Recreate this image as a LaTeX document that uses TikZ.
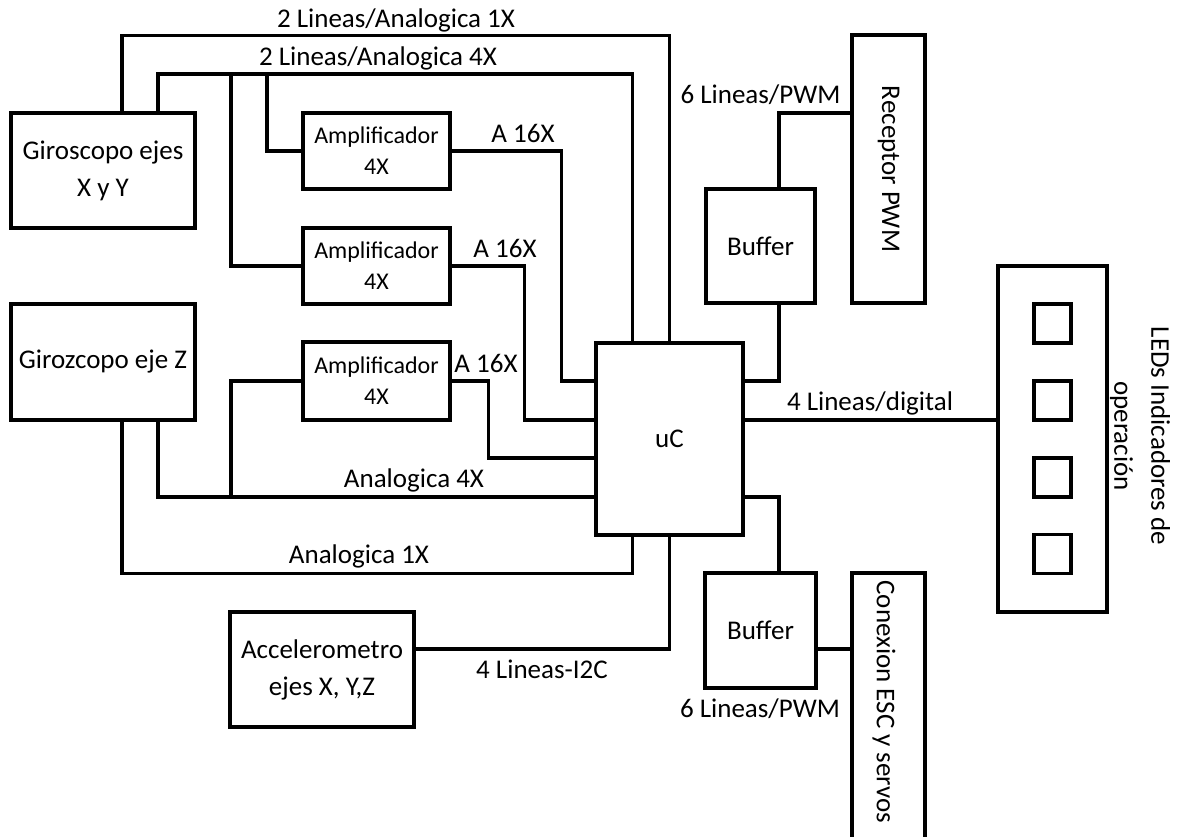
\documentclass[tikz,border=0pt]{standalone}
\usepackage{fontspec}
\setmainfont{Carlito}
\usetikzlibrary{calc}

\begin{document}
\begin{tikzpicture}[
    x=1pt, y=-1pt,
    block/.style={rectangle, draw, line width=3.2pt, inner sep=0pt, align=center, font=\fontsize{27}{37}\selectfont},
    amp/.style={block, minimum width=147pt, minimum height=76pt, font=\fontsize{24}{31}\selectfont},
    lbl/.style={anchor=base, inner sep=0pt, font=\fontsize{27}{37}\selectfont},
    wire/.style={line width=3.2pt}
]
    \useasboundingbox (0,0) rectangle (1177,836);

    \node[block, minimum width=184pt, minimum height=115pt] (gxy) at (103,170.5) {Giroscopo ejes\\X y Y};
    \node[block, minimum width=184pt, minimum height=116pt] (gz) at (103,362) {Girozcopo eje Z};
    \node[amp] (amp1) at (376.5,151) {Amplificador\\4X};
    \node[amp] (amp2) at (376.5,266) {Amplificador\\4X};
    \node[amp, minimum height=78pt] (amp3) at (376.5,381) {Amplificador\\4X};
    \node[block, minimum width=147pt, minimum height=192pt] (uc) at (669.5,439) {uC};
    \node[block, minimum width=109pt, minimum height=114pt] (buf1) at (760.5,246) {Buffer};
    \node[block, minimum width=111pt, minimum height=115pt] (buf2) at (760.5,630.5) {Buffer};
    \node[block, minimum width=73pt, minimum height=268pt] (rec) at (888.5,169) {\rotatebox{-90}{Receptor PWM}};
    \node[block, minimum width=73pt, minimum height=290pt] (esc) at (888.5,718) {};
    \node[rotate=-90, font=\fontsize{27}{37}\selectfont] (esctxt) at (884,702) {Conexion ESC y servos};
    \node[block, minimum width=109pt, minimum height=346pt] (leds) at (1052.5,439) {};
    \foreach \i/\yy in {1/323.5,2/400.5,3/477.5,4/554}
        \node[block, minimum width=37pt, minimum height=39pt] (led\i) at (1052.5,\yy) {};
    \node[rotate=-90, align=center, font=\fontsize{27}{37}\selectfont] (ledtxt) at (1140,436) {LEDs Indicadores de\\operación};
    \node[block, minimum width=184pt, minimum height=115pt] (acc) at (322,669.5) {Accelerometro\\ejes X, Y,Z};

    \coordinate (j1) at (267,74);
    \coordinate (j2) at (231,74);
    \coordinate (j3) at (231,497);

    \draw[wire] ([xshift=19pt]gxy.north) -- ++(0,-76) -| (uc.north);
    \draw[wire] ([xshift=55pt]gxy.north) -- ++(0,-37.5) -| ([xshift=-37pt]uc.north);
    \draw[wire] (amp1.west) -| (j1);
    \draw[wire] (amp2.west) -| (j2);
    \draw[wire] (amp1.east) -- ++(110,0) |- ([yshift=58pt]uc.west);
    \draw[wire] (amp2.east) -- ++(73,0) |- ([yshift=19pt]uc.west);
    \draw[wire] (amp3.east) -- ++(37,0) |- ([yshift=-19pt]uc.west);
    \draw[wire] ([xshift=55pt]gz.south) |- ([yshift=-58pt]uc.west);
    \draw[wire] (amp3.west) -| (j3);
    \draw[wire] ([xshift=19pt]gz.south) -- ++(0,151.5) -| ([xshift=-37pt]uc.south);
    \draw[wire] ([yshift=20.5pt]acc.east) -| (uc.south);
    \draw[wire] ([yshift=56pt]rec.west) -| ([xshift=18.5pt]buf1.north);
    \draw[wire] ([xshift=18.5pt]buf1.south) |- ([yshift=58pt]uc.east);
    \draw[wire] ([yshift=19pt]uc.east) -- ([yshift=19pt]leds.west);
    \draw[wire] ([yshift=-58pt]uc.east) -| ([xshift=18.5pt]buf2.north);
    \draw[wire] ([yshift=-18.5pt]buf2.east) -- ([yshift=-18.5pt]buf2.east -| esc.west);

    \node[lbl] (lin1x) at (396,27) {2 Lineas/Analogica 1X};
    \node[lbl] (lin4x) at (378,65) {2 Lineas/Analogica 4X};
    \node[lbl] (a16a) at (523,142) {A 16X};
    \node[lbl] (a16b) at (505,257) {A 16X};
    \node[lbl] (a16c) at (486,372) {A 16X};
    \node[lbl] (an4x) at (414,487) {Analogica 4X};
    \node[lbl] (an1x) at (359,563) {Analogica 1X};
    \node[lbl] (pwmtop) at (760.5,103) {6 Lineas/PWM};
    \node[lbl] (digi) at (870,410) {4 Lineas/digital};
    \node[lbl] (itwoc) at (542,678) {4 Lineas-I2C};
    \node[lbl] (pwmbot) at (760,717) {6 Lineas/PWM};
\end{tikzpicture}
\end{document}
